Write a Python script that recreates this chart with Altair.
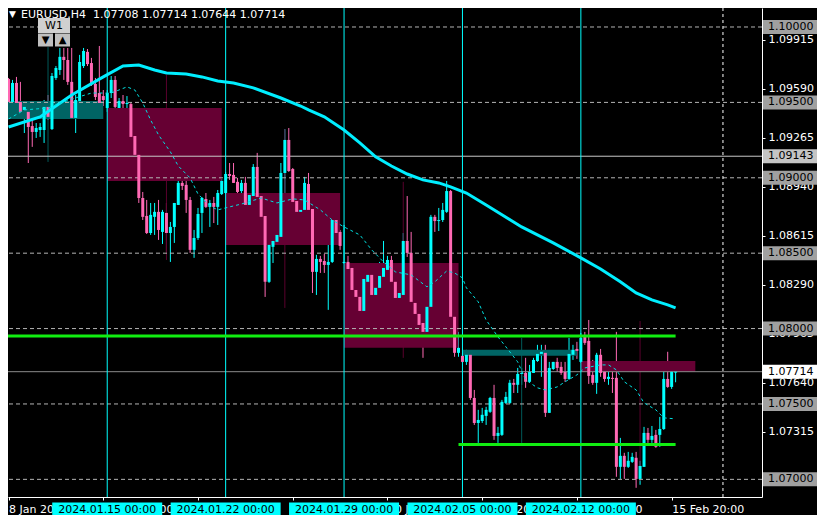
import json
import altair as alt
import pandas as pd

# ---------------- data (H4 candles, index 0 = 8 Jan 2024 20:00) ----------------
candle_open = [
    1.09655, 1.09503, 1.09629, 1.09503, 1.09450, 1.09437, 1.09343, 1.09304, 1.09317, 1.09317,
    1.09470, 1.09323, 1.09662, 1.09715, 1.09802, 1.09781, 1.09636, 1.09397, 1.09509, 1.09741,
    1.09835, 1.09761, 1.09622, 1.09562, 1.09542, 1.09463, 1.09562, 1.09649, 1.09463, 1.09509,
    1.09489, 1.09489, 1.09277, 1.09152, 1.08866, 1.08747, 1.08634, 1.08741, 1.08774, 1.08641,
    1.08767, 1.08634, 1.08674, 1.08820, 1.08966, 1.08953, 1.08853, 1.08522, 1.08601, 1.08767,
    1.08859, 1.08807, 1.08833, 1.08807, 1.08892, 1.08899, 1.09025, 1.09019, 1.08973, 1.08912,
    1.08966, 1.08820, 1.08879, 1.09072, 1.08879, 1.08747, 1.08310, 1.08542, 1.08575, 1.08608,
    1.09032, 1.09251, 1.09058, 1.08846, 1.08774, 1.08787, 1.08959, 1.08793, 1.08376, 1.08462,
    1.08448, 1.08422, 1.08442, 1.08720, 1.08641, 1.08435, 1.08442, 1.08402, 1.08256, 1.08210,
    1.08117, 1.08310, 1.08356, 1.08223, 1.08270, 1.08343, 1.08389, 1.08455, 1.08310, 1.08203,
    1.08223, 1.08581, 1.08502, 1.08170, 1.08097, 1.08037, 1.07978, 1.08144, 1.08741, 1.08713,
    1.08720, 1.08774, 1.08912, 1.08078, 1.07839, 1.07819, 1.07779, 1.07826, 1.07540, 1.07374,
    1.07387, 1.07421, 1.07448, 1.07540, 1.07288, 1.07295, 1.07507, 1.07507, 1.07640, 1.07627,
    1.07699, 1.07706, 1.07647, 1.07706, 1.07785, 1.07832, 1.07839, 1.07441, 1.07732, 1.07779,
    1.07746, 1.07713, 1.07666, 1.07826, 1.07865, 1.07779, 1.07945, 1.07918, 1.07693, 1.07640,
    1.07826, 1.07713, 1.07666, 1.07673, 1.07673, 1.07083, 1.07156, 1.07083, 1.07116, 1.07143,
    1.07003, 1.07083, 1.07308, 1.07262, 1.07295, 1.07295, 1.07334, 1.07666, 1.07613, 1.07708,
]
candle_high = [
    1.09662, 1.09649, 1.09669, 1.09636, 1.09483, 1.09503, 1.09383, 1.09363, 1.09363, 1.09516,
    1.09549, 1.09695, 1.09741, 1.09861, 1.09861, 1.09861, 1.09861, 1.09549, 1.09815, 1.09861,
    1.09854, 1.09795, 1.09662, 1.09874, 1.09582, 1.09582, 1.09675, 1.09675, 1.09529, 1.09549,
    1.09542, 1.09496, 1.09284, 1.09158, 1.08906, 1.08853, 1.08833, 1.08833, 1.08853, 1.08787,
    1.08833, 1.08707, 1.08833, 1.09019, 1.09032, 1.09032, 1.08873, 1.08654, 1.08800, 1.08873,
    1.08899, 1.08853, 1.08873, 1.08919, 1.08992, 1.09039, 1.09098, 1.09098, 1.08999, 1.08986,
    1.09006, 1.08899, 1.09091, 1.09165, 1.08899, 1.08747, 1.08568, 1.08608, 1.08667, 1.09098,
    1.09323, 1.09330, 1.09065, 1.08853, 1.08826, 1.09006, 1.09032, 1.08793, 1.08489, 1.08482,
    1.08495, 1.08720, 1.08859, 1.08807, 1.08654, 1.08687, 1.08482, 1.08409, 1.08323, 1.08236,
    1.08336, 1.08369, 1.08369, 1.08310, 1.08442, 1.08581, 1.08482, 1.08482, 1.08323, 1.08243,
    1.08634, 1.08879, 1.08641, 1.08210, 1.08124, 1.08057, 1.08144, 1.08754, 1.08754, 1.08800,
    1.08833, 1.08979, 1.08919, 1.08124, 1.07978, 1.07839, 1.07859, 1.07839, 1.07593, 1.07461,
    1.07474, 1.07481, 1.07547, 1.07627, 1.07348, 1.07527, 1.07580, 1.07660, 1.07666, 1.07739,
    1.07739, 1.07806, 1.07759, 1.07806, 1.07892, 1.07892, 1.07892, 1.07779, 1.07779, 1.07806,
    1.07779, 1.07779, 1.07938, 1.07892, 1.07912, 1.07971, 1.07978, 1.08057, 1.07792, 1.07839,
    1.07865, 1.07759, 1.07713, 1.07739, 1.07978, 1.07275, 1.07176, 1.07182, 1.07176, 1.07182,
    1.07123, 1.07348, 1.07341, 1.07354, 1.07328, 1.07414, 1.07726, 1.07846, 1.07746, 1.07714,
]
candle_low = [
    1.09489, 1.09489, 1.09483, 1.09423, 1.09297, 1.09098, 1.09205, 1.09264, 1.09271, 1.09231,
    1.09383, 1.09317, 1.09649, 1.09682, 1.09649, 1.09616, 1.09390, 1.09297, 1.09496, 1.09728,
    1.09741, 1.09609, 1.09516, 1.09489, 1.09476, 1.09437, 1.09529, 1.09417, 1.09337, 1.09417,
    1.09463, 1.09152, 1.09132, 1.08833, 1.08720, 1.08627, 1.08621, 1.08621, 1.08588, 1.08561,
    1.08509, 1.08442, 1.08568, 1.08820, 1.08919, 1.08767, 1.08502, 1.08469, 1.08588, 1.08634,
    1.08800, 1.08674, 1.08700, 1.08687, 1.08886, 1.08892, 1.08986, 1.08966, 1.08807, 1.08873,
    1.08807, 1.08754, 1.08873, 1.08853, 1.08601, 1.08210, 1.08303, 1.08435, 1.08568, 1.08601,
    1.08873, 1.09039, 1.08787, 1.08707, 1.08741, 1.08774, 1.08674, 1.08236, 1.08223, 1.08369,
    1.08369, 1.08124, 1.08435, 1.08614, 1.08522, 1.08429, 1.08395, 1.08243, 1.08124, 1.07958,
    1.08057, 1.08256, 1.08210, 1.08124, 1.08210, 1.08310, 1.08376, 1.08303, 1.08157, 1.08057,
    1.08210, 1.08475, 1.07958, 1.08071, 1.08011, 1.07806, 1.07912, 1.08044, 1.08641, 1.08647,
    1.08707, 1.08767, 1.08071, 1.07813, 1.07813, 1.07772, 1.07759, 1.07527, 1.07361, 1.07242,
    1.07374, 1.07361, 1.07441, 1.07262, 1.07242, 1.07288, 1.07500, 1.07500, 1.07573, 1.07573,
    1.07627, 1.07607, 1.07640, 1.07706, 1.07779, 1.07680, 1.07414, 1.07441, 1.07726, 1.07713,
    1.07693, 1.07647, 1.07660, 1.07792, 1.07799, 1.07772, 1.07892, 1.07633, 1.07627, 1.07567,
    1.07680, 1.07647, 1.07627, 1.07573, 1.07017, 1.07003, 1.07003, 1.07076, 1.07109, 1.06944,
    1.06964, 1.07083, 1.07242, 1.07242, 1.07209, 1.07216, 1.07328, 1.07607, 1.07600, 1.07644,
]
candle_close = [
    1.09503, 1.09629, 1.09496, 1.09437, 1.09470, 1.09337, 1.09304, 1.09330, 1.09337, 1.09470,
    1.09404, 1.09675, 1.09728, 1.09802, 1.09781, 1.09636, 1.09397, 1.09516, 1.09768, 1.09841,
    1.09754, 1.09622, 1.09536, 1.09496, 1.09516, 1.09562, 1.09649, 1.09470, 1.09509, 1.09489,
    1.09496, 1.09271, 1.09152, 1.08866, 1.08741, 1.08634, 1.08754, 1.08774, 1.08654, 1.08774,
    1.08634, 1.08674, 1.08833, 1.08966, 1.08946, 1.08853, 1.08522, 1.08601, 1.08760, 1.08866,
    1.08807, 1.08833, 1.08807, 1.08899, 1.08979, 1.09025, 1.09012, 1.08966, 1.08906, 1.08966,
    1.08820, 1.08886, 1.09072, 1.08873, 1.08741, 1.08310, 1.08555, 1.08581, 1.08621, 1.09032,
    1.09251, 1.09045, 1.08840, 1.08774, 1.08787, 1.08966, 1.08787, 1.08376, 1.08462, 1.08442,
    1.08422, 1.08442, 1.08720, 1.08634, 1.08548, 1.08442, 1.08395, 1.08256, 1.08210, 1.08117,
    1.08329, 1.08356, 1.08223, 1.08270, 1.08349, 1.08402, 1.08455, 1.08310, 1.08203, 1.08236,
    1.08581, 1.08502, 1.08177, 1.08097, 1.08024, 1.07978, 1.08144, 1.08741, 1.08713, 1.08720,
    1.08787, 1.08912, 1.08078, 1.07839, 1.07872, 1.07779, 1.07826, 1.07540, 1.07374, 1.07394,
    1.07428, 1.07461, 1.07540, 1.07288, 1.07308, 1.07514, 1.07547, 1.07640, 1.07627, 1.07699,
    1.07706, 1.07647, 1.07713, 1.07792, 1.07832, 1.07846, 1.07441, 1.07739, 1.07779, 1.07739,
    1.07706, 1.07666, 1.07832, 1.07859, 1.07852, 1.07938, 1.07905, 1.07686, 1.07640, 1.07826,
    1.07706, 1.07666, 1.07680, 1.07666, 1.07083, 1.07156, 1.07083, 1.07123, 1.07149, 1.07003,
    1.07089, 1.07308, 1.07262, 1.07288, 1.07216, 1.07334, 1.07666, 1.07613, 1.07713, 1.07714,
]

# moving averages (read at sampled candle indices)
ma_slow_i = [0, 8, 16, 24, 29, 33, 37, 40, 45, 49, 53, 57, 62, 69, 74, 76, 80, 85, 89, 93,
             97, 101, 105, 109, 112, 116, 121, 130, 138, 145, 150, 155, 159, 163, 167, 169]
ma_slow_v = [1.09337, 1.09404, 1.09549, 1.09669, 1.09741, 1.09748, 1.09715, 1.09695, 1.09688, 1.09669,
             1.09642, 1.09629, 1.09596, 1.09529, 1.09476, 1.09450, 1.09404, 1.09317, 1.09231, 1.09139,
             1.09078, 1.09025, 1.08986, 1.08966, 1.08940, 1.08899, 1.08820, 1.08674, 1.08568, 1.08469,
             1.08395, 1.08310, 1.08236, 1.08190, 1.08157, 1.08137]
ma_fast_i = [0, 4, 10, 16, 21, 26, 30, 32, 34, 36, 38, 41, 43, 46, 48, 51, 53, 56, 59, 64,
             68, 72, 75, 79, 82, 85, 89, 92, 95, 98, 102, 106, 108, 111, 113, 115, 116, 119, 121, 124,
             126, 129, 131, 134, 136, 139, 141, 144, 146, 150, 152, 154, 156, 159, 161, 164, 166, 169]
ma_fast_v = [1.09390, 1.09450, 1.09463, 1.09522, 1.09562, 1.09562, 1.09603, 1.09582, 1.09496, 1.09383,
             1.09284, 1.09172, 1.09078, 1.08999, 1.08892, 1.08813, 1.08787, 1.08807, 1.08826, 1.08866,
             1.08833, 1.08860, 1.08853, 1.08787, 1.08720, 1.08674, 1.08621, 1.08522, 1.08442, 1.08376,
             1.08356, 1.08277, 1.08310, 1.08382, 1.08369, 1.08336, 1.08270, 1.08177, 1.08057, 1.07945,
             1.07879, 1.07779, 1.07660, 1.07607, 1.07593, 1.07613, 1.07647, 1.07693, 1.07739, 1.07759,
             1.07759, 1.07726, 1.07647, 1.07593, 1.07507, 1.07461, 1.07408, 1.07401]

# weekly (W1) candles overlay
w_start = [-5, 25, 55, 85, 115, 145]
w_end = [24, 54, 84, 114, 144, 174]
w_mid = [10, 40, 70, 100, 130, 160]
w_open = [1.09390, 1.09463, 1.08899, 1.08435, 1.07819, 1.07785]
w_close = [1.09509, 1.08979, 1.08555, 1.07872, 1.07859, 1.07714]
w_high = [1.09868, 1.09682, 1.09323, 1.08973, 1.07938, 1.08050]
w_low = [1.09105, 1.08455, 1.08137, 1.07806, 1.07242, 1.06990]

# horizontal objects
levels = [1.10000, 1.09500, 1.09000, 1.08500, 1.08000, 1.07500, 1.07000]
hline_price = 1.09143
bid_price = 1.07714
green_start = [-5, 114]
green_end = [169, 169]
green_price = [1.07951, 1.07232]

# vertical objects
week_idx = [25, 55, 85, 115, 145]
week_labels = ["2024.01.15 00:00", "2024.01.22 00:00", "2024.01.29 00:00",
               "2024.02.05 00:00", "2024.02.12 00:00"]
shift_idx = 181

# axes
tick_idx = [0, 24, 48, 72, 96, 120, 144, 168]
tick_labels = ["8 Jan 2024", "12 Jan 20:00", "18 Jan 20:00", "24 Jan 20:00",
               "30 Jan 20:00", "5 Feb 20:00", "9 Feb 20:00", "15 Feb 20:00"]
price_ticks = [1.09915, 1.09590, 1.09265, 1.08940, 1.08615, 1.08290, 1.07965, 1.07640, 1.07315]
header = "EURUSD,H4\u00a0 1.07708 1.07714 1.07644 1.07714"

# ---------------- frames ----------------
n = len(candle_open)
candles = pd.DataFrame({"i": list(range(n)), "open": candle_open, "high": candle_high,
                        "low": candle_low, "close": candle_close})
weekly = pd.DataFrame({"s": w_start, "e": w_end, "m": w_mid, "o": w_open, "c": w_close,
                       "h": w_high, "l": w_low})
slow = pd.DataFrame({"i": ma_slow_i, "v": ma_slow_v})
fast = pd.DataFrame({"i": ma_fast_i, "v": ma_fast_v})
lv = pd.DataFrame({"p": levels})
greens = pd.DataFrame({"s": green_start, "e": green_end, "p": green_price})
weeks = pd.DataFrame({"i": week_idx, "t": week_labels})
line_df = pd.DataFrame({"p": [hline_price]})
bid_df = pd.DataFrame({"p": [bid_price]})

W, H = 754, 489
FONT = "DejaVu Sans"
xs = alt.Scale(domain=[1.125, 189.625], nice=False, zero=False)
ys = alt.Scale(domain=[1.06883, 1.10126], nice=False, zero=False)


def rect_path(w, h):
    r = h / w
    return f"M-1,{-r}L1,{-r}L1,{r}L-1,{r}Z"


x_axis = alt.Axis(values=tick_idx, labelExpr=f"{json.dumps(tick_labels)}[round(datum.value / 24)]",
                  orient="bottom", title=None, grid=False, labelAlign="left", labelColor="white",
                  labelFont=FONT, labelFontSize=11, tickColor="white", tickSize=3, labelPadding=3,
                  domainColor="white", labelOverlap=False, labelFlush=False, labelBound=False)
y_axis = alt.Axis(values=price_ticks, format=".5f", orient="right", title=None, grid=False,
                  labelColor="white", labelFont=FONT, labelFontSize=11, tickColor="white", tickSize=3,
                  labelPadding=3, domainColor="white", labelOverlap=False, labelFlush=False,
                  labelAlign="left", labelBaseline="middle")

X = lambda f: alt.X(f, scale=xs, axis=x_axis)
Y = lambda f: alt.Y(f, scale=ys, axis=y_axis)

cand_col = alt.condition("datum.close >= datum.open", alt.value("#00ffff"), alt.value("#ff69b4"))
week_col = alt.condition("datum.c >= datum.o", alt.value("#006464"), alt.value("#660033"))
week_wick_col = alt.condition("datum.c >= datum.o", alt.value("#005a5a"), alt.value("#5a002d"))

wicks = alt.Chart(candles).mark_rule(strokeWidth=1, clip=True).encode(
    x=X("i:Q"), y=Y("low:Q"), y2="high:Q", color=cand_col)
bodies = alt.Chart(candles).mark_bar(size=3, clip=True).encode(
    x=X("i:Q"), y=Y("open:Q"), y2="close:Q", color=cand_col)

wk_wick = alt.Chart(weekly).mark_rule(strokeWidth=1, clip=True).encode(
    x=X("m:Q"), y=Y("h:Q"), y2="l:Q", color=week_wick_col)
wk_box = alt.Chart(weekly).mark_rect(clip=True).encode(
    x=X("s:Q"), x2="e:Q", y=Y("o:Q"), y2="c:Q", color=week_col)
lv_lines = alt.Chart(lv).mark_rule(color="#b4b4b4", strokeDash=[4, 3], strokeWidth=1).encode(y=Y("p:Q"))
gray_line = alt.Chart(line_df).mark_rule(color="#c8c8c8", strokeWidth=1).encode(y=Y("p:Q"))
bid_line = alt.Chart(bid_df).mark_rule(color="#8c8c8c", strokeWidth=1).encode(y=Y("p:Q"))
vlines = alt.Chart(weeks).mark_rule(color="#00ffff", strokeWidth=1).encode(x=X("i:Q"))
shift_line = alt.Chart(pd.DataFrame({"i": [shift_idx]})).mark_rule(
    color="white", strokeDash=[3, 3], strokeWidth=1).encode(x=X("i:Q"))

slow_line = alt.Chart(slow).mark_line(color="#00eeff", strokeWidth=3, clip=True).encode(x=X("i:Q"), y=Y("v:Q"))
fast_line = alt.Chart(fast).mark_line(color="#00e0e0", strokeWidth=1, strokeDash=[3, 3], clip=True).encode(
    x=X("i:Q"), y=Y("v:Q"))
green_lines = alt.Chart(greens).mark_rule(color="#11ee11", strokeWidth=3, clip=True).encode(
    x=X("s:Q"), x2="e:Q", y=Y("p:Q"))


def price_box(df, fill):
    return alt.Chart(df).mark_point(shape=rect_path(54, 14), size=54 ** 2, filled=True, opacity=1,
                                    strokeWidth=0, color=fill).encode(x=alt.value(W + 28), y=Y("p:Q"))


def price_text(df):
    return alt.Chart(df).mark_text(align="left", baseline="middle", font=FONT, fontSize=11,
                                   color="black").encode(
        x=alt.value(W + 6), y=Y("p:Q"), text=alt.Text("p:Q", format=".5f"))


date_box = alt.Chart(weeks).mark_point(shape=rect_path(110, 14), size=110 ** 2, filled=True, opacity=1,
                                       strokeWidth=0, color="#00ffff").encode(
    x=X("i:Q"), y=alt.value(H + 12.5))
date_text = alt.Chart(weeks).mark_text(align="center", baseline="middle", font=FONT, fontSize=11,
                                       color="black").encode(
    x=X("i:Q"), y=alt.value(H + 13), text="t:N")

one = pd.DataFrame({"t": [header]})
head_tri = alt.Chart(one).mark_text(text="▼", align="left", baseline="middle", font=FONT, fontSize=9,
                                    color="white").encode(x=alt.value(1), y=alt.value(6))
head_txt = alt.Chart(one).mark_text(align="left", baseline="middle", font=FONT, fontSize=11,
                                    color="white").encode(x=alt.value(13), y=alt.value(6.5), text="t:N")
w1_box = alt.Chart(one).mark_point(shape=rect_path(32, 15), size=32 ** 2, filled=True, opacity=1,
                                   color="#d0d0d0", strokeWidth=0).encode(x=alt.value(46), y=alt.value(17.5))
w1_txt = alt.Chart(one).mark_text(text="W1", align="center", baseline="middle", font=FONT, fontSize=11,
                                  color="black").encode(x=alt.value(46), y=alt.value(18))
btn_l = alt.Chart(one).mark_point(shape=rect_path(15, 13), size=15 ** 2, filled=True, opacity=1,
                                  color="#c0c0c0", strokeWidth=0).encode(x=alt.value(37.5), y=alt.value(32))
btn_r = alt.Chart(one).mark_point(shape=rect_path(15, 13), size=15 ** 2, filled=True, opacity=1,
                                  color="#c0c0c0", strokeWidth=0).encode(x=alt.value(54.5), y=alt.value(32))
btn_l_t = alt.Chart(one).mark_text(text="▼", align="center", baseline="middle", font=FONT, fontSize=10,
                                   color="black").encode(x=alt.value(37.5), y=alt.value(32))
btn_r_t = alt.Chart(one).mark_text(text="▲", align="center", baseline="middle", font=FONT, fontSize=10,
                                   color="black").encode(x=alt.value(54.5), y=alt.value(32))

chart = alt.layer(
    wicks, wk_wick, wk_box, lv_lines, gray_line, bid_line, vlines, shift_line,
    bodies, slow_line, fast_line, green_lines,
    price_box(lv, "#a0a0a0"), price_box(line_df, "#c4c4c4"), price_box(bid_df, "#ffffff"),
    price_text(lv), price_text(line_df), price_text(bid_df),
    date_box, date_text,
    head_tri, head_txt, w1_box, w1_txt, btn_l, btn_r, btn_l_t, btn_r_t,
).properties(
    width=W, height=H,
    autosize=alt.AutoSizeParams(type="none"),
    padding={"left": 0, "top": 0, "right": 55, "bottom": 18},
).configure(background="black").configure_view(stroke=None)

chart.save("out.html", embed_options={"renderer": "svg", "actions": False})
